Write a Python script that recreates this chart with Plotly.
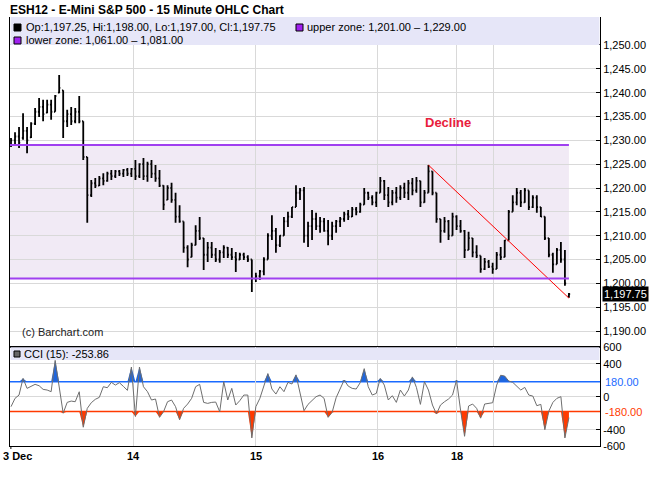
import numpy as np
import plotly.graph_objects as go

W, H = 650, 487
FONT = "Liberation Sans, Arial, sans-serif"

# ---------------- data (15-minute bars) ----------------
high = [
    1230.5, 1231.7, 1232.8, 1235.7, 1232.8, 1233.8, 1236.8, 1238.9, 1238.5, 1238.5,
    1238.5, 1239.5, 1243.7, 1240.5, 1236.4, 1237.0, 1236.8, 1239.3, 1234.0, 1226.5,
    1221.7, 1222.1, 1222.5, 1223.1, 1223.4, 1223.8, 1223.8, 1223.8, 1224.0, 1224.2,
    1224.2, 1225.9, 1225.2, 1226.3, 1225.5, 1225.9, 1224.8, 1223.8, 1220.6, 1220.6,
    1221.1, 1219.0, 1216.4, 1213.0, 1208.0, 1208.5, 1212.2, 1213.9, 1209.5, 1208.7,
    1208.7, 1207.4, 1207.0, 1208.0, 1207.6, 1207.4, 1206.6, 1206.4, 1206.4, 1205.9,
    1205.0, 1202.2, 1202.8, 1205.5, 1210.5, 1214.3, 1211.6, 1210.1, 1213.9, 1215.0,
    1216.0, 1220.6, 1220.0, 1220.2, 1212.9, 1215.4, 1214.8, 1213.9, 1213.7, 1213.3,
    1212.9, 1213.3, 1213.9, 1215.0, 1215.4, 1216.0, 1216.0, 1216.9, 1220.0, 1219.2,
    1218.5, 1219.2, 1222.3, 1221.7, 1220.2, 1219.6, 1220.2, 1220.6, 1221.1, 1221.7,
    1222.1, 1222.3, 1221.5, 1219.6, 1224.8, 1223.5, 1219.0, 1213.5, 1213.9, 1213.3,
    1214.8, 1214.3, 1213.3, 1211.2, 1210.8, 1209.5, 1208.0, 1205.8, 1205.3, 1204.9,
    1204.3, 1206.6, 1207.6, 1209.1, 1215.4, 1218.5, 1220.0, 1219.6, 1220.0, 1219.5,
    1218.5, 1218.5, 1216.0, 1214.0, 1209.5, 1206.4, 1207.4, 1208.7, 1207.0, 1198.0,
]
low = [
    1228.6, 1229.0, 1228.4, 1230.1, 1227.3, 1230.5, 1233.2, 1234.9, 1234.0, 1235.7,
    1234.3, 1236.0, 1239.9, 1230.5, 1232.8, 1233.2, 1233.6, 1233.6, 1225.9, 1212.7,
    1218.1, 1220.0, 1220.4, 1220.6, 1221.3, 1221.7, 1222.1, 1222.5, 1222.3, 1222.5,
    1222.3, 1221.7, 1222.1, 1221.7, 1221.3, 1222.1, 1221.3, 1220.2, 1215.4, 1217.5,
    1216.9, 1212.7, 1212.7, 1206.4, 1203.4, 1205.5, 1208.0, 1209.1, 1202.8, 1204.5,
    1205.3, 1204.5, 1204.3, 1205.3, 1205.3, 1204.9, 1202.4, 1204.9, 1204.9, 1204.5,
    1198.2, 1200.3, 1200.7, 1201.7, 1205.0, 1209.1, 1206.4, 1207.6, 1210.0, 1211.8,
    1213.7, 1216.0, 1217.5, 1208.5, 1207.6, 1209.1, 1211.2, 1210.6, 1210.8, 1208.0,
    1209.1, 1210.6, 1211.8, 1212.9, 1213.3, 1213.9, 1214.3, 1214.8, 1216.5, 1217.5,
    1216.4, 1216.0, 1219.0, 1217.5, 1216.0, 1216.4, 1216.9, 1217.5, 1217.9, 1217.5,
    1218.5, 1219.0, 1216.0, 1216.9, 1219.0, 1218.5, 1212.7, 1208.5, 1210.6, 1209.1,
    1210.0, 1211.2, 1210.6, 1205.3, 1207.0, 1205.5, 1205.3, 1202.2, 1202.8, 1203.2,
    1202.0, 1203.0, 1204.9, 1205.5, 1209.0, 1215.0, 1216.4, 1216.0, 1216.9, 1215.4,
    1215.8, 1214.8, 1213.9, 1209.1, 1205.5, 1202.2, 1204.0, 1204.3, 1199.5, 1197.0,
]
open_ = [
    1229.0, 1230.0, 1230.8, 1230.5, 1232.0, 1230.6, 1233.5, 1236.0, 1237.0, 1235.8,
    1237.5, 1236.0, 1240.0, 1240.5, 1234.0, 1235.5, 1234.0, 1236.0, 1234.0, 1226.5,
    1218.5, 1221.0, 1220.5, 1222.0, 1221.5, 1223.0, 1222.5, 1223.5, 1223.0, 1223.8,
    1223.0, 1224.0, 1222.5, 1225.0, 1222.5, 1225.0, 1223.0, 1222.0, 1220.5, 1217.5,
    1220.0, 1217.5, 1214.0, 1213.0, 1207.5, 1205.5, 1208.0, 1211.0, 1209.5, 1206.0,
    1207.5, 1206.0, 1205.0, 1206.5, 1207.5, 1206.0, 1205.5, 1205.0, 1206.0, 1205.5,
    1205.0, 1201.0, 1201.5, 1202.5, 1205.0, 1210.0, 1211.0, 1208.0, 1210.0, 1213.0,
    1214.0, 1216.0, 1219.0, 1219.5, 1210.0, 1212.0, 1213.5, 1212.0, 1213.0, 1211.0,
    1210.0, 1212.0, 1213.0, 1213.5, 1214.5, 1214.0, 1215.5, 1215.0, 1216.5, 1219.0,
    1218.0, 1217.0, 1219.0, 1221.5, 1218.5, 1217.0, 1219.0, 1218.0, 1220.0, 1219.0,
    1221.0, 1219.5, 1221.5, 1217.0, 1219.0, 1223.5, 1219.0, 1213.5, 1211.0, 1213.0,
    1210.0, 1214.0, 1212.0, 1211.0, 1207.0, 1209.5, 1206.5, 1205.8, 1203.0, 1204.5,
    1203.5, 1203.0, 1206.0, 1205.5, 1209.0, 1215.0, 1217.0, 1219.0, 1217.0, 1219.5,
    1216.0, 1218.0, 1216.0, 1214.0, 1209.5, 1206.0, 1204.0, 1207.0, 1205.0, 1197.25,
]
close = [
    1230.0, 1230.8, 1229.5, 1232.0, 1230.0, 1233.5, 1236.0, 1237.0, 1235.5, 1237.5,
    1236.0, 1239.3, 1241.0, 1234.0, 1235.5, 1234.0, 1236.0, 1234.0, 1226.5, 1218.5,
    1221.0, 1220.5, 1222.0, 1221.5, 1223.0, 1222.5, 1223.5, 1223.0, 1223.8, 1223.0,
    1224.0, 1222.5, 1225.0, 1222.5, 1225.0, 1223.0, 1222.0, 1220.5, 1216.5, 1220.0,
    1217.5, 1214.0, 1213.0, 1207.5, 1205.0, 1208.0, 1211.0, 1209.5, 1206.0, 1207.5,
    1206.0, 1205.0, 1206.5, 1207.5, 1206.0, 1205.5, 1205.0, 1206.0, 1205.5, 1205.0,
    1201.0, 1201.5, 1202.5, 1205.0, 1210.0, 1211.0, 1208.0, 1210.0, 1213.0, 1214.0,
    1216.0, 1219.0, 1219.5, 1210.0, 1212.0, 1213.5, 1212.0, 1213.0, 1211.0, 1210.0,
    1212.0, 1213.0, 1213.5, 1214.5, 1214.0, 1215.5, 1215.0, 1216.5, 1219.0, 1218.0,
    1217.0, 1219.0, 1221.5, 1218.5, 1217.0, 1219.0, 1218.0, 1220.0, 1219.0, 1221.0,
    1219.5, 1221.5, 1217.0, 1219.0, 1223.5, 1219.0, 1213.5, 1211.0, 1213.0, 1210.0,
    1214.0, 1212.0, 1211.0, 1207.0, 1209.5, 1206.5, 1205.8, 1203.0, 1204.5, 1203.5,
    1203.0, 1206.0, 1205.5, 1209.0, 1215.0, 1217.0, 1219.0, 1217.0, 1219.5, 1216.0,
    1218.0, 1216.0, 1214.0, 1209.5, 1206.0, 1204.0, 1207.0, 1205.0, 1200.0, 1197.75,
]
cci = [
    -121, -20, 20, 222, 101, 121, 150, 133, 89, 81,
    61, 440, 141, -200, -69, -53, -61, 60, -370, -141,
    -73, -32, -8, 121, 109, 174, 141, 170, 125, 77,
    360, -240, 360, 121, 61, -40, -28, -250, -182, -61,
    -40, -121, -280, -141, -89, -20, 121, 150, -69, -81,
    -69, -65, -182, 182, -40, 101, -101, -48, 20, 20,
    -500, -121, -20, 141, 280, 93, 32, 121, 61, 174,
    154, 265, 61, -170, -93, -40, 0, 20, -20, -250,
    -190, -12, 101, 202, 129, 101, 93, 170, 340, 121,
    20, 40, 222, 141, -40, 12, -69, 81, 8, 81,
    240, 113, -93, 182, 81, -101, -210, -101, -61, -28,
    20, 200, -162, -480, -113, -89, -141, -260, -89, -85,
    -73, 141, 260, 250, 190, 174, 121, 81, 113, 20,
    8, -109, -93, -400, -174, -69, -20, 0, -500, -253.86,
]

# session starts (in bar units) and their labels
session_ticks = [-0.25, 30.4, 61.0, 91.4, 111.1, 120.1]
session_labels = ["3 Dec", "14", "15", "16", "18", ""]
price_ticks = [1190, 1195, 1200, 1205, 1210, 1215, 1220, 1225, 1230, 1235, 1240, 1245, 1250]
cci_ticks = [600, 400, 0, -400, -600]
cci_tick_text = ["600", "400", "0", "-400", "-600"]
cci_levels = [180, -180]
upper_zone = [1201.00, 1229.00]
lower_zone = [1061.00, 1081.00]
trend_x = [104, 139]
trend_y = [1224.8, 1196.9]
decline_pos = [108.8, 1233.8]

N = len(close)
idx = np.arange(N)

# ---------------- layout helpers ----------------
def px(x):
    return x / W

def py(y):
    return 1 - y / H

X_DOM = [px(10), px(600)]
X_RANGE = [-0.25, 146.74]
MAIN_TOP, MAIN_BOT = 17, 346
CCI_TOP, CCI_BOT = 347.2, 446.2
MAIN_DOM = [py(MAIN_BOT), py(MAIN_TOP)]
MAIN_RANGE = [1186.86, 1255.87]
CCI_DOM = [py(CCI_BOT), py(CCI_TOP)]
GRID = "#D9D9D9"

fig = go.Figure()

# price bars
fig.add_trace(go.Ohlc(
    x=idx, open=open_, high=high, low=low, close=close,
    increasing=dict(line=dict(color="black", width=1.8)),
    decreasing=dict(line=dict(color="black", width=1.8)),
    tickwidth=0.3, xaxis="x", yaxis="y", showlegend=False, hoverinfo="skip",
))
# trend line
fig.add_trace(go.Scatter(
    x=trend_x, y=trend_y, mode="lines", line=dict(color="#FF0000", width=1),
    xaxis="x", yaxis="y", showlegend=False, hoverinfo="skip",
))

# CCI fills
cci_arr = np.array(cci, dtype=float)
up = np.maximum(cci_arr, cci_levels[0])
dn = np.minimum(cci_arr, cci_levels[1])
fig.add_trace(go.Scatter(x=idx, y=np.full(N, cci_levels[0]), mode="lines",
                         line=dict(width=0), xaxis="x2", yaxis="y2",
                         showlegend=False, hoverinfo="skip"))
fig.add_trace(go.Scatter(x=idx, y=up, mode="lines", line=dict(width=0),
                         fill="tonexty", fillcolor="#1F66DD", xaxis="x2", yaxis="y2",
                         showlegend=False, hoverinfo="skip"))
fig.add_trace(go.Scatter(x=idx, y=np.full(N, cci_levels[1]), mode="lines",
                         line=dict(width=0), xaxis="x2", yaxis="y2",
                         showlegend=False, hoverinfo="skip"))
fig.add_trace(go.Scatter(x=idx, y=dn, mode="lines", line=dict(width=0),
                         fill="tonexty", fillcolor="#FF3A00", xaxis="x2", yaxis="y2",
                         showlegend=False, hoverinfo="skip"))
fig.add_trace(go.Scatter(x=idx, y=cci, mode="lines", line=dict(color="#6E6E6E", width=1),
                         xaxis="x2", yaxis="y2", showlegend=False, hoverinfo="skip"))

main_band_y0 = (MAIN_BOT - 45) / (MAIN_BOT - MAIN_TOP)
cci_band_y0 = (CCI_BOT - 360) / (CCI_BOT - CCI_TOP)

shapes = [
    # legend bands (drawn over the grid; no price marks live there)
    dict(type="rect", xref="x domain", yref="y domain", x0=0.001, x1=0.999, y0=main_band_y0, y1=1,
         fillcolor="#E6E6F8", line=dict(width=0), layer="above"),
    dict(type="rect", xref="x2 domain", yref="y2 domain", x0=0.001, x1=0.999, y0=cci_band_y0, y1=1,
         fillcolor="#E6E6F8", line=dict(width=0), layer="above"),
    # zone
    dict(type="rect", xref="x", yref="y", x0=X_RANGE[0], x1=N - 1,
         y0=upper_zone[0], y1=upper_zone[1], fillcolor="#F1EAF5",
         line=dict(width=0), layer="below"),
    dict(type="line", xref="x", yref="y", x0=X_RANGE[0], x1=N - 1,
         y0=upper_zone[1], y1=upper_zone[1], line=dict(color="#A040F0", width=2), layer="above"),
    dict(type="line", xref="x", yref="y", x0=X_RANGE[0], x1=N - 1,
         y0=upper_zone[0], y1=upper_zone[0], line=dict(color="#A040F0", width=2), layer="above"),
    # CCI levels
    dict(type="line", xref="x2 domain", yref="y2", x0=0, x1=1, y0=cci_levels[0], y1=cci_levels[0],
         line=dict(color="#1A6AFF", width=1.5), layer="below"),
    dict(type="line", xref="x2 domain", yref="y2", x0=0, x1=1, y0=cci_levels[1], y1=cci_levels[1],
         line=dict(color="#FF3A00", width=1.5), layer="below"),
    # small tick under the left edge of the time axis
    dict(type="line", xref="x2 domain", yref="paper", x0=0.0015, x1=0.0015, y0=py(CCI_BOT), y1=py(449),
         line=dict(color="black", width=1), layer="above"),
    # legend squares
    dict(type="rect", xref="paper", yref="paper", x0=px(14), x1=px(21), y0=py(31), y1=py(24),
         fillcolor="black", line=dict(color="black", width=1), layer="above"),
    dict(type="rect", xref="paper", yref="paper", x0=px(296), x1=px(303), y0=py(31), y1=py(24),
         fillcolor="#A020F0", line=dict(color="black", width=1), layer="above"),
    dict(type="rect", xref="paper", yref="paper", x0=px(14), x1=px(21), y0=py(44), y1=py(37),
         fillcolor="#A020F0", line=dict(color="black", width=1), layer="above"),
    dict(type="rect", xref="paper", yref="paper", x0=px(14), x1=px(20), y0=py(357), y1=py(351),
         fillcolor="#666666", line=dict(color="black", width=1), layer="above"),
]

t = dict(family=FONT, size=11, color="black")
ann = [
    dict(x=px(8), y=py(10), xref="paper", yref="paper", xanchor="left", yanchor="middle",
         text="<b>ESH12 - E-Mini S&P 500 - 15 Minute OHLC Chart</b>", showarrow=False,
         font=dict(family=FONT, size=12, color="black")),
    dict(x=px(24), y=py(27.5), xref="paper", yref="paper", xanchor="left", yanchor="middle",
         text=f"Op:{open_[-1]:,.2f}, Hi:{high[-1]:,.2f}, Lo:{low[-1]:,.2f}, Cl:{close[-1]:,.2f}",
         showarrow=False, font=t),
    dict(x=px(305), y=py(27.5), xref="paper", yref="paper", xanchor="left", yanchor="middle",
         text=f"upper zone: {upper_zone[0]:,.2f} \u2013 {upper_zone[1]:,.2f}",
         showarrow=False, font=t),
    dict(x=px(24), y=py(40.5), xref="paper", yref="paper", xanchor="left", yanchor="middle",
         text=f"lower zone: {lower_zone[0]:,.2f} \u2013 {lower_zone[1]:,.2f}",
         showarrow=False, font=t),
    dict(x=px(22), y=py(354), xref="paper", yref="paper", xanchor="left", yanchor="middle",
         text=f"CCI (15): {cci[-1]:.2f}", showarrow=False, font=t),
    dict(x=px(20), y=py(332), xref="paper", yref="paper", xanchor="left", yanchor="middle",
         text="(c) Barchart.com", showarrow=False, font=dict(family=FONT, size=11, color="#222222")),
    dict(x=decline_pos[0], y=decline_pos[1], xref="x", yref="y", xanchor="center", yanchor="middle",
         text="<b>Decline</b>", showarrow=False, font=dict(family=FONT, size=13, color="#E8203C")),
    dict(x=px(602), y=close[-1], xref="paper", yref="y", xanchor="left", yanchor="middle",
         text=f"{close[-1]:,.2f}", showarrow=False, bgcolor="black", borderpad=1,
         font=dict(family=FONT, size=11, color="white")),
    dict(x=px(603), y=cci_levels[0], xref="paper", yref="y2", xanchor="left", yanchor="middle",
         text=f"{cci_levels[0]:.2f}", showarrow=False, font=dict(family=FONT, size=11, color="#1A6AFF")),
    dict(x=px(603), y=cci_levels[1], xref="paper", yref="y2", xanchor="left", yanchor="middle",
         text=f"{cci_levels[1]:.2f}", showarrow=False, font=dict(family=FONT, size=11, color="#FF3A00")),
]
# time-axis labels, centred on the session grid lines (first one sits at the left edge)
for k, (tv, lab) in enumerate(zip(session_ticks, session_labels)):
    if not lab:
        continue
    if k == 0:
        ann.append(dict(x=px(0.5), y=py(456), xref="paper", yref="paper", xanchor="left",
                        yanchor="middle", text=f"<b>{lab}</b>", showarrow=False,
                        font=dict(family=FONT, size=11, color="black")))
    else:
        ann.append(dict(x=tv, y=py(456), xref="x2", yref="paper", xanchor="center", yanchor="middle",
                        text=f"<b>{lab}</b>", showarrow=False,
                        font=dict(family=FONT, size=11, color="black")))

fig.update_layout(
    width=W, height=H, margin=dict(l=0, r=0, t=0, b=0, pad=0),
    paper_bgcolor="white", plot_bgcolor="white", showlegend=False,
    font=dict(family=FONT, size=11, color="black"),
    shapes=shapes, annotations=ann,
    xaxis=dict(domain=X_DOM, range=X_RANGE, anchor="y", tickvals=session_ticks,
               showticklabels=False, ticks="", showgrid=True, gridcolor=GRID, zeroline=False,
               showline=True, linecolor="black", linewidth=2, rangeslider=dict(visible=False),
               automargin=False, fixedrange=True),
    yaxis=dict(domain=MAIN_DOM, range=MAIN_RANGE, anchor="x", side="right",
               tickvals=price_ticks, tickformat=",.2f", ticks="inside", ticklen=4,
               tickcolor="black", showgrid=True, gridcolor=GRID, zeroline=False,
               showline=True, mirror=True, linecolor="black", linewidth=1,
               tickfont=dict(family=FONT, size=11, color="black"), automargin=False, fixedrange=True),
    xaxis2=dict(domain=X_DOM, range=X_RANGE, anchor="y2", tickvals=session_ticks,
                showticklabels=False, ticks="",
                showgrid=True, gridcolor=GRID, zeroline=False,
                showline=True, mirror=True, linecolor="black", linewidth=1,
                automargin=False, fixedrange=True),
    yaxis2=dict(domain=CCI_DOM, range=[-600, 600], anchor="x2", side="right",
                tickvals=cci_ticks, ticktext=cci_tick_text, ticks="inside", ticklen=4,
                tickcolor="black", showgrid=True, gridcolor=GRID, zeroline=False,
                showline=True, mirror=True, linecolor="black", linewidth=1,
                tickfont=dict(family=FONT, size=11, color="black"), automargin=False, fixedrange=True),
)

fig.write_html("out.html", config={"displayModeBar": False},
               post_script="document.body.style.margin='0';document.body.style.overflow='hidden';")
